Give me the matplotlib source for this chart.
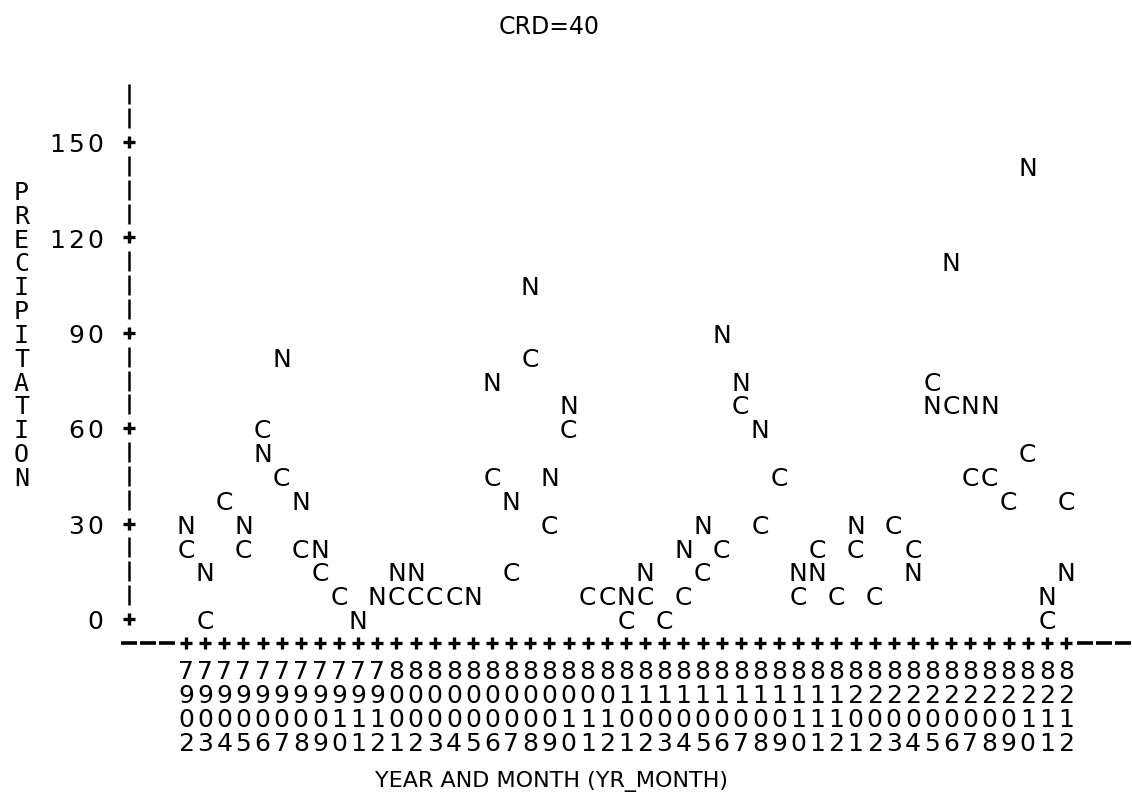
import numpy as np
import matplotlib
matplotlib.use("Agg")
import matplotlib.pyplot as plt
from matplotlib.transforms import offset_copy

# months plotted on the x axis, 1979-02 .. 1982-12
years = ["79"] * 11 + ["80"] * 12 + ["81"] * 12 + ["82"] * 12
months = ["02", "03", "04", "05", "06", "07", "08", "09", "10", "11", "12"] + \
         ["01", "02", "03", "04", "05", "06", "07", "08", "09", "10", "11", "12"] * 3
month_labels = [y + m for y, m in zip(years, months)]

# precipitation, series N and series C (nan = not shown)
prec_n = [30, 15, 37.5, 30, 52.5, 82.5, 37.5, 22.5, 7.5, 0, 7.5, 15, 15, 7.5, 7.5, 7.5,
          75, 37.5, 105, 45, 67.5, 7.5, 7.5, 7.5, 15, 0, 22.5, 30, 90, 75, 60, 45,
          15, 15, 7.5, 30, 7.5, 30, 15, 67.5, 112.5, 67.5, 67.5, 37.5, 142.5, 7.5, 15]
prec_c = [22.5, 0, 37.5, 22.5, 60, 45, 22.5, 15, 7.5, np.nan, np.nan, 7.5, 7.5, 7.5, 7.5, np.nan,
          45, 15, 82.5, 30, 60, 7.5, 7.5, 0, 7.5, 0, 7.5, 15, 22.5, 67.5, 30, 45,
          7.5, 22.5, 7.5, 22.5, 7.5, 30, 22.5, 75, 67.5, 45, 45, 37.5, 52.5, 0, 37.5]

y_ticks = [0, 30, 60, 90, 120, 150]
title = "CRD=40"
x_title = "YEAR AND MONTH (YR_MONTH)"
y_title = "PRECIPITATION"

# line printer grid: one character column per month, 7.5 units per print line
LINE = 7.5
W, H = 1132, 804
x0_px, pitch = 186, 19.13
y0_px, ppu = 620, 3.18

fig = plt.figure(figsize=(W / 100, H / 100), dpi=100)
ax = fig.add_axes([0, 0, 1, 1])
ax.axis("off")
ax.set_xlim(-x0_px / pitch, (W - x0_px) / pitch)
ax.set_ylim((y0_px - H) / ppu, y0_px / ppu)

FS = 18
FONT = "DejaVu Sans"


def put(x, y, s, ha="center", size=FS, family=FONT):
    tr = offset_copy(ax.transData, fig=fig, x=0, y=-0.729 * size / 2, units="points")
    ax.text(x, y, s, transform=tr, ha=ha, va="baseline", family=family,
            fontsize=size, color="black")


cols = np.arange(len(month_labels))

# points: letters, C printed when both fall on the same print line
for i in cols:
    n, c = prec_n[i], prec_c[i]
    same = not np.isnan(c) and round(n / LINE) == round(c / LINE)
    if not same:
        put(i, n, "N")
    if not np.isnan(c):
        put(i, c, "C")

# vertical axis
ax_col = -3
top_line = 22
rows = np.arange(0, top_line + 1) * LINE
tick_rows = [r for r in rows if r in y_ticks]
bar_rows = [r for r in rows if r not in y_ticks]
ax.plot([ax_col] * len(bar_rows), bar_rows, ls="none", marker="|", ms=15, mew=1.8, color="black")
ax.plot([ax_col] * len(tick_rows), tick_rows, ls="none", marker="+", ms=8, mew=2.4, color="black")
for v in y_ticks:
    s = str(v)
    for k, ch in enumerate(s):
        put(-4.75 - (len(s) - 1 - k), v, ch)

# horizontal axis, one line below zero
x_line = -LINE
ax.plot(cols, [x_line] * len(cols), ls="none", marker="+", ms=8, mew=2.4, color="black")
dash_cols = [-3, -2, -1, 47, 48, 49]
ax.plot(dash_cols, [x_line] * len(dash_cols), ls="none", marker="_", ms=12, mew=2.6, color="black")
for i, lab in zip(cols, month_labels):
    for k, ch in enumerate(lab):
        put(i, x_line - LINE * (k + 1) - 0.8, ch)

# titles
put(19.0, 187, title, size=17)
put(19.1, -50, x_title, size=16)
for k, ch in enumerate(y_title):
    put(-8.6, 135 - LINE * k, ch, size=18, family="DejaVu Sans Mono")

fig.savefig("out.png", dpi=100, facecolor="white")
